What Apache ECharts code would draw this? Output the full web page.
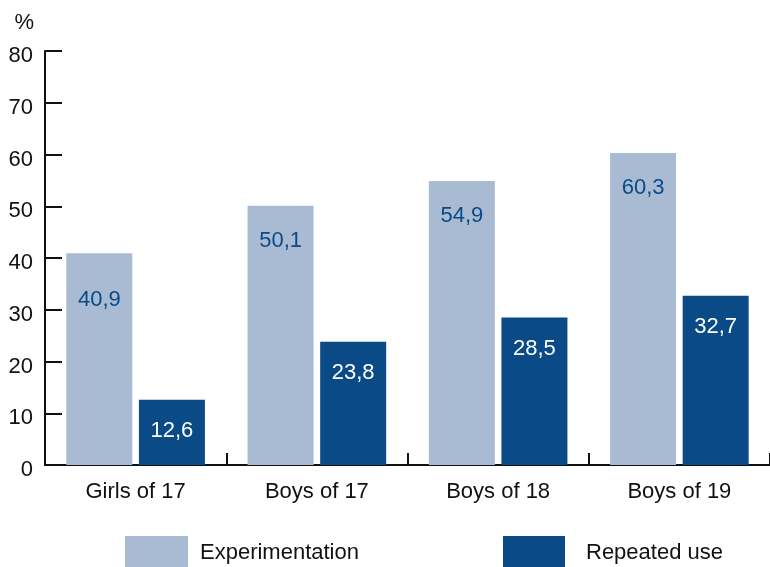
<!DOCTYPE html>
<html><head><meta charset="utf-8">
<script src="https://cdn.jsdelivr.net/npm/echarts@6/dist/echarts.min.js"></script>
<style>html,body{margin:0;padding:0;background:#fff}#c{width:770px;height:567px}</style>
</head><body><div id="c"></div>
<script>
const categories = ['Girls of 17', 'Boys of 17', 'Boys of 18', 'Boys of 19'];
const experimentation = [40.9, 50.1, 54.9, 60.3];
const repeatedUse = [12.6, 23.8, 28.5, 32.7];
const seriesNames = ['Experimentation', 'Repeated use'];
const yTicks = [0, 10, 20, 30, 40, 50, 60, 70, 80];

const FONT = '"Liberation Sans", Arial, Helvetica, sans-serif';
const LIGHT = '#a9bbd3';
const DARK = '#0a4a87';
const fmt = p => String(p.value).replace('.', ',');

const chart = echarts.init(document.getElementById('c'), null, {renderer: 'canvas'});
chart.setOption({
  animation: false,
  textStyle: {fontFamily: FONT},
  grid: {left: 45, top: 51, right: -8, bottom: 102, containLabel: false},
  legend: [
    {data: [seriesNames[0]], left: 125, top: 536, padding: 0, itemWidth: 63, itemHeight: 34, itemGap: 0,
     icon: 'rect', textStyle: {fontFamily: FONT, fontSize: 22, color: '#111', padding: [0, 0, 0, 7]}},
    {data: [seriesNames[1]], left: 503, top: 536, padding: 0, itemWidth: 62, itemHeight: 34, itemGap: 0,
     icon: 'rect', textStyle: {fontFamily: FONT, fontSize: 22, color: '#111', padding: [0, 0, 0, 16]}}
  ],
  xAxis: {
    type: 'category', data: categories,
    axisLine: {lineStyle: {color: '#111', width: 2}},
    axisTick: {show: true, inside: true, length: 12, lineStyle: {color: '#111', width: 2}},
    axisLabel: {fontFamily: FONT, fontSize: 22, color: '#111', margin: 16}
  },
  yAxis: {
    type: 'value', min: yTicks[0], max: yTicks[yTicks.length - 1], interval: 10,
    name: '%', nameLocation: 'end', nameGap: 17,
    nameTextStyle: {fontFamily: FONT, fontSize: 22, color: '#111', align: 'right', padding: [0, 11, 0, 0]},
    splitLine: {show: false},
    axisLine: {show: true, lineStyle: {color: '#111', width: 2}},
    axisTick: {show: true, inside: true, length: 17, lineStyle: {color: '#111', width: 2}},
    axisLabel: {fontFamily: FONT, fontSize: 22, color: '#111', margin: 12,
                verticalAlign: 'top', lineHeight: 10}
  },
  series: [
    {name: seriesNames[0], type: 'bar',
     data: experimentation.map((v, i) => i === 0 ? {value: v, label: {distance: 36}} : v),
     barWidth: 66, barGap: '10%',
     itemStyle: {color: LIGHT},
     label: {show: true, position: 'insideTop', distance: 24, formatter: fmt,
             fontFamily: FONT, fontSize: 22, color: '#0a4a87'}},
    {name: seriesNames[1], type: 'bar', data: repeatedUse, barWidth: 66,
     itemStyle: {color: DARK},
     label: {show: true, position: 'insideTop', distance: 20, formatter: fmt,
             fontFamily: FONT, fontSize: 22, color: '#ffffff'}}
  ]
});
</script></body></html>
